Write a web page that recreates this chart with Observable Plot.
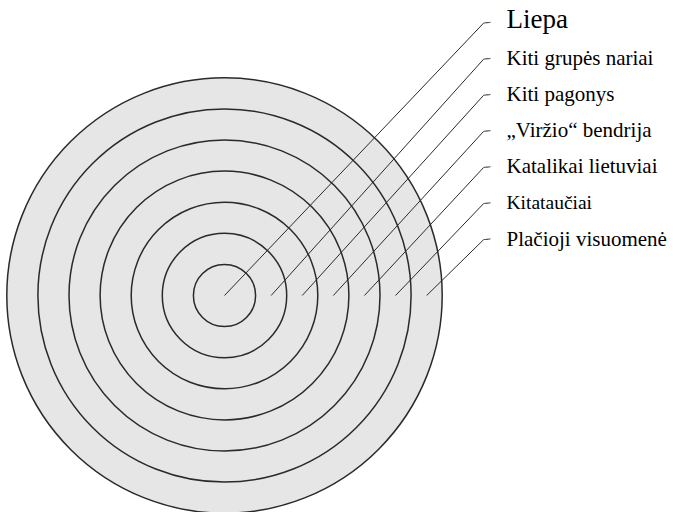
<!DOCTYPE html>
<html>
<head>
<meta charset="utf-8">
<script src="https://cdn.jsdelivr.net/npm/d3@7"></script>
<script src="https://cdn.jsdelivr.net/npm/@observablehq/plot@0.6"></script>
<style>
  html, body { margin: 0; padding: 0; background: #ffffff; }
  #chart svg { display: block; }
</style>
</head>
<body>
<div id="chart"></div>
<script>
// Groups, from the innermost circle outwards
const groups = [
  "Liepa",
  "Kiti grupės nariai",
  "Kiti pagonys",
  "„Viržio“ bendrija",
  "Katalikai lietuviai",
  "Kitataučiai",
  "Plačioji visuomenė"
];
// ring number of each group (1 = innermost)
const rings = [1, 2, 3, 4, 5, 6, 7];

// layout (pixels)
const W = 673, H = 512;
const U = 31.1;
const CX = 224, CY = 295;
const labelTop = 21.7, labelStep = 36.1;
const cornerPx = 483, tickEndPx = 490, textPx = 506;
const fonts = ["Liberation Serif", "Times New Roman", "serif"];

const toX = px => (px - CX) / U;
const toY = py => (CY - py) / U;
const labelY = i => toY(labelTop + i * labelStep);
const startX = i => (i === 0 ? 0 : rings[i] - 0.5);
const sizeOf = i => (i === 0 ? 27 : i === 5 ? 19.5 : 21);

// diagonal part and horizontal hook of each leader
const diagonals = groups.map((g, i) => ({g, x1: startX(i), y1: 0, x2: toX(cornerPx), y2: labelY(i) - 1 / U}));
const hooks = groups.map((g, i) => ({g, x1: toX(cornerPx), y1: labelY(i) - 1 / U, x2: toX(tickEndPx), y2: labelY(i)}));

const labelRows = groups.map((g, i) => ({g, i, x: toX(textPx), y: labelY(i) + (i === 0 ? 3 / U : 0)}));

const chart = Plot.plot({
  width: W, height: H, margin: 0,
  x: {domain: [toX(0), toX(W)], range: [0, W], axis: null},
  y: {domain: [toY(H), toY(0)], range: [H, 0], axis: null},
  r: {type: "linear", domain: [0, rings.length], range: [0, rings.length * U]},
  marks: [
    Plot.dot(rings.slice().reverse(), {x: () => 0, y: () => 0, r: d => d, fill: "#e6e6e6", stroke: "#2a2a2a"}),
    ...labelRows.map(d => Plot.text([d], {x: "x", y: "y", text: "g", textAnchor: "start", fontSize: sizeOf(d.i), fontFamily: fonts[0]})),
    Plot.link(diagonals, {x1: "x1", y1: "y1", x2: "x2", y2: "y2", stroke: "#2a2a2a"}),
    Plot.link(hooks, {x1: "x1", y1: "y1", x2: "x2", y2: "y2", stroke: "#2a2a2a", curve: "bump-y"})
  ]
});
document.getElementById("chart").append(chart);
</script>
</body>
</html>
